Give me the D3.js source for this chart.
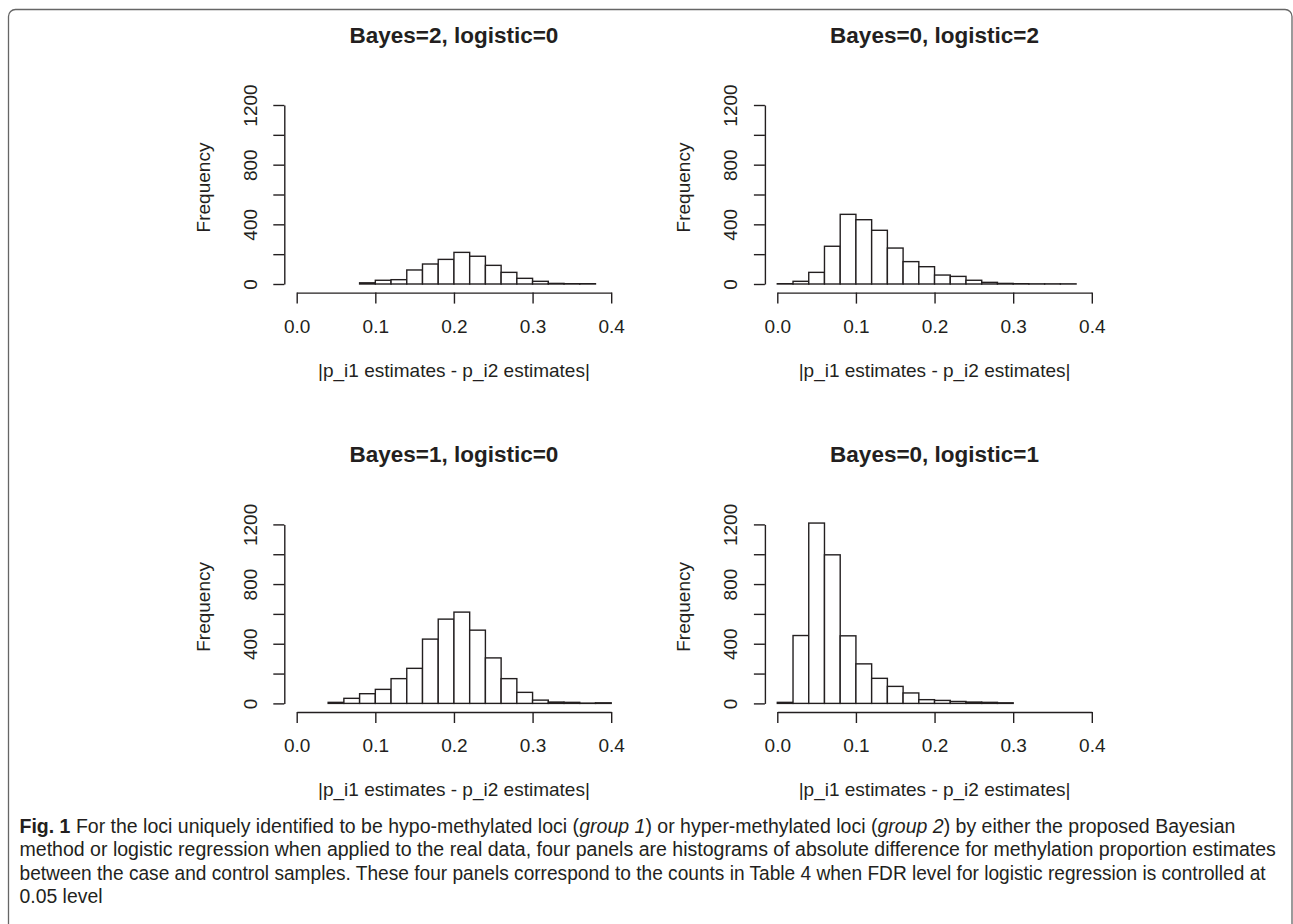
<!DOCTYPE html>
<html>
<head>
<meta charset="utf-8">
<script src="https://cdn.jsdelivr.net/npm/d3@7"></script>
<style>
  html, body { margin: 0; padding: 0; background: #fff; }
  svg { display: block; }
  .rtext { font-family: "Liberation Sans", Arial, Helvetica, sans-serif; fill: #231f20; }
  .cap { font-family: "Liberation Sans Narrow", "Liberation Sans", Arial, sans-serif; fill: #231f20; font-size: 19.5px; }
</style>
</head>
<body>
<script>
// ---------- data ----------
const panelTitles = ["Bayes=2, logistic=0", "Bayes=0, logistic=2", "Bayes=1, logistic=0", "Bayes=0, logistic=1"];
const binWidth = 0.02;
const binStarts = [0.08, 0.00, 0.04, 0.00];
const counts1 = [8, 25, 29, 94, 134, 165, 212, 186, 125, 78, 38, 18, 4, 2, 2];
const counts2 = [2, 18, 78, 253, 467, 431, 360, 241, 150, 116, 60, 51, 25, 11, 4, 2, 1, 1, 1];
const counts3 = [7, 34, 65, 94, 166, 235, 431, 565, 612, 491, 305, 166, 74, 22, 9, 7, 2, 4];
const counts4 = [7, 455, 1209, 996, 453, 265, 168, 114, 70, 25, 20, 13, 9, 7, 4];
const allCounts = [counts1, counts2, counts3, counts4];
const xTicks = [0.0, 0.1, 0.2, 0.3, 0.4];
const yTicks = [0, 200, 400, 600, 800, 1000, 1200];
const yTickLabels = [0, 400, 800, 1200];
const xLabel = "|p_i1 estimates - p_i2 estimates|";
const yLabel = "Frequency";
const captionLines = [
  [{t: "Fig. 1", b: true}, {t: "\u00a0For the loci uniquely identified to be hypo-methylated loci ("}, {t: "group 1", i: true}, {t: ") or hyper-methylated loci ("}, {t: "group 2", i: true}, {t: ") by either the proposed Bayesian"}],
  [{t: "method or logistic regression when applied to the real data, four panels are histograms of absolute difference for methylation proportion estimates"}],
  [{t: "between the case and control samples. These four panels correspond to the counts in Table 4 when FDR level for logistic regression is controlled at"}],
  [{t: "0.05 level"}]
];

// ---------- layout ----------
const W = 1293, H = 924;
const svg = d3.select("body").append("svg").attr("width", W).attr("height", H);

svg.append("rect")
  .attr("x", 8.5).attr("y", 9.5).attr("width", 1283.5).attr("height", 1000)
  .attr("rx", 7).attr("fill", "none").attr("stroke", "#666").attr("stroke-width", 1.3);

const colDx = [0, 480.6];
const rowDy = [0, 419.4];

allCounts.forEach((counts, p) => {
  const dx = colDx[p % 2], dy = rowDy[Math.floor(p / 2)];
  const x = d3.scaleLinear().domain([0, 0.4]).range([296.7 + dx, 611.2 + dx]);
  const y = d3.scaleLinear().domain([0, 1200]).range([284 + dy, 105 + dy]);
  const g = svg.append("g");

  // bars
  const bins = counts.map((c, i) => ({x0: binStarts[p] + i * binWidth, x1: binStarts[p] + (i + 1) * binWidth, c}));
  g.selectAll("rect.bar").data(bins).enter().append("rect")
    .attr("class", "bar")
    .attr("x", d => x(d.x0))
    .attr("width", d => x(d.x1) - x(d.x0))
    .attr("y", d => y(d.c))
    .attr("height", d => y(0) - y(d.c))
    .attr("fill", "#fff").attr("stroke", "#231f20").attr("stroke-width", 1.4);

  // x axis
  const xa = g.append("g").attr("transform", `translate(0,${292.6 + dy})`)
    .call(d3.axisBottom(x).tickValues(xTicks).tickSize(11).tickSizeOuter(0).tickPadding(16).tickFormat(d3.format(".1f")));
  xa.select(".domain").attr("stroke", "#231f20").attr("stroke-width", 1.4);
  xa.selectAll(".tick line").attr("stroke", "#231f20").attr("stroke-width", 1.4);
  xa.selectAll(".tick text").attr("class", "rtext").attr("font-size", 19).attr("fill", "#231f20");

  // y axis
  const ya = g.append("g").attr("transform", `translate(${284.3 + dx},0)`)
    .call(d3.axisLeft(y).tickValues(yTicks).tickSize(11).tickSizeOuter(0)
      .tickFormat(d => yTickLabels.includes(d) ? String(d) : ""));
  ya.select(".domain").attr("stroke", "#231f20").attr("stroke-width", 1.4);
  ya.selectAll(".tick line").attr("stroke", "#231f20").attr("stroke-width", 1.4);
  ya.selectAll(".tick text").attr("class", "rtext").attr("font-size", 19).attr("fill", "#231f20")
    .attr("transform", "rotate(-90)").attr("x", 0).attr("y", -27.5).attr("dy", 0)
    .attr("text-anchor", "middle");
  ya.selectAll(".tick text").filter(function () { return this.textContent === ""; }).remove();

  // title
  g.append("text").attr("class", "rtext")
    .attr("x", (x(0) + x(0.4)) / 2).attr("y", 43 + dy)
    .attr("text-anchor", "middle").attr("font-size", 22.5).attr("font-weight", "bold")
    .text(panelTitles[p]);

  // x label
  g.append("text").attr("class", "rtext")
    .attr("x", (x(0) + x(0.4)) / 2).attr("y", 376.5 + dy)
    .attr("text-anchor", "middle").attr("font-size", 19)
    .text(xLabel);

  // y label
  g.append("text").attr("class", "rtext")
    .attr("transform", `translate(${209.5 + dx},${187.5 + dy}) rotate(-90)`)
    .attr("text-anchor", "middle").attr("font-size", 19)
    .text(yLabel);
});

// caption: each run is its own text element, placed side by side and squeezed horizontally
const capBase = [832.5, 856, 879.5, 903];
const capTargets = [1216, 1257, 1247, null];
const capX = 19.5;
let scales = [];
captionLines.forEach((parts, li) => {
  const nodes = parts.map(pt => {
    const t = svg.append("text").attr("class", "cap").attr("x", 0).attr("y", 0)
      .style("white-space", "pre").text(pt.t);
    if (pt.b) t.attr("font-weight", "bold");
    if (pt.i) t.attr("font-style", "italic");
    return {t, w: t.node().getComputedTextLength()};
  });
  const total = d3.sum(nodes, n => n.w);
  let sc;
  if (capTargets[li]) { sc = capTargets[li] / total; scales.push(sc); }
  else { sc = d3.mean(scales); }
  let cx = capX;
  nodes.forEach(n => {
    n.t.attr("transform", `translate(${cx},${capBase[li]}) scale(${sc},1)`);
    cx += n.w * sc;
  });
});
</script>
</body>
</html>
